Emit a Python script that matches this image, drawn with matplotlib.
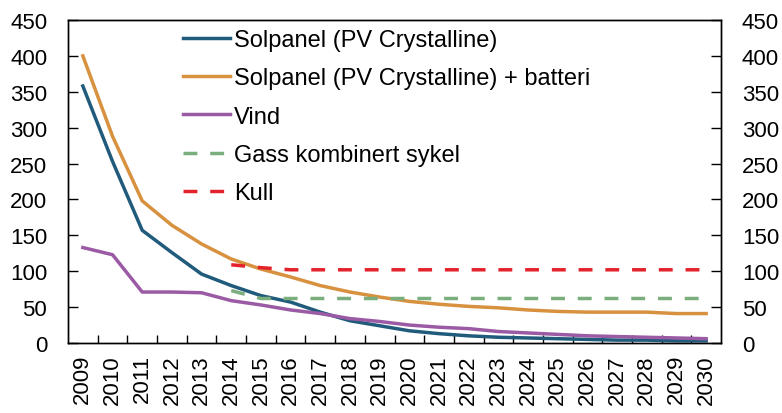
import matplotlib
matplotlib.use("Agg")
import matplotlib.pyplot as plt
from matplotlib.ticker import FixedLocator

plt.rcParams['font.family'] = ['Liberation Sans', 'DejaVu Sans']

# data
years = [str(y) for y in range(2009, 2031)]
sol = [358, 253, 157, 126, 96, 80, 66, 57, 43, 31, 24, 17, 13, 10, 8, 7, 6, 5, 4, 4, 3, 3]
sol_batt = [400, 288, 198, 164, 138, 117, 103, 92, 80, 71, 64, 58, 54, 51, 49, 46, 44, 43, 43, 43, 41, 41]
vind = [133, 123, 71, 71, 70, 59, 53, 46, 41, 34, 30, 25, 22, 20, 16, 14, 12, 10, 9, 8, 7, 6]
gass_years = years[5:]
gass = [73] + [62] * 16
kull = [109, 105] + [102] * 15

x = list(range(len(years)))
xg = x[5:]

fig = plt.figure(figsize=(7.82, 4.14), dpi=100)
ax = fig.add_axes([68 / 782, 1 - 344 / 414, 653 / 782, 323 / 414])

lw = 2.5
ax.plot(x, sol, color='#215B7C', lw=lw, label='Solpanel (PV Crystalline)')
ax.plot(x, sol_batt, color='#D8913F', lw=lw, label='Solpanel (PV Crystalline) + batteri')
ax.plot(x, vind, color='#9A5BA4', lw=lw, label='Vind')
ax.plot(xg, gass, color='#7AAE7C', lw=lw, dashes=(4, 3.7), label='Gass kombinert sykel')
ax.plot(xg, kull, color='#E4222C', lw=lw, dashes=(4, 3.7), label='Kull')

ax.set_xlim(-0.5, len(years) - 0.5)
ax.set_ylim(0, 450)
ax.set_yticks(range(0, 451, 50))

# tick marks between categories, labels at category centres
ax.xaxis.set_major_locator(FixedLocator([i + 0.5 for i in range(len(years) - 1)]))
ax.xaxis.set_minor_locator(FixedLocator(x))
ax.set_xticklabels([], minor=False)
ax.set_xticklabels(years, minor=True, rotation=90)
ax.tick_params(axis='x', which='major', direction='in', length=6, width=1)
ax.tick_params(axis='x', which='minor', length=0, pad=8, labelsize=16)
ax.tick_params(axis='y', direction='in', length=7, width=1, pad=15, labelsize=16)

ax2 = ax.twinx()
ax2.set_ylim(0, 450)
ax2.set_yticks(range(0, 451, 50))
ax2.tick_params(axis='y', direction='in', length=7, width=1, pad=15, labelsize=16)

for a in (ax, ax2):
    for s in a.spines.values():
        s.set_linewidth(1)

ax.legend(loc='upper left', bbox_to_anchor=(0.176, 0.972), frameon=False,
          fontsize=17, handlelength=2.0, handletextpad=0.15, labelspacing=0.69,
          borderpad=0, borderaxespad=0)

fig.savefig('out.png', dpi=100)
